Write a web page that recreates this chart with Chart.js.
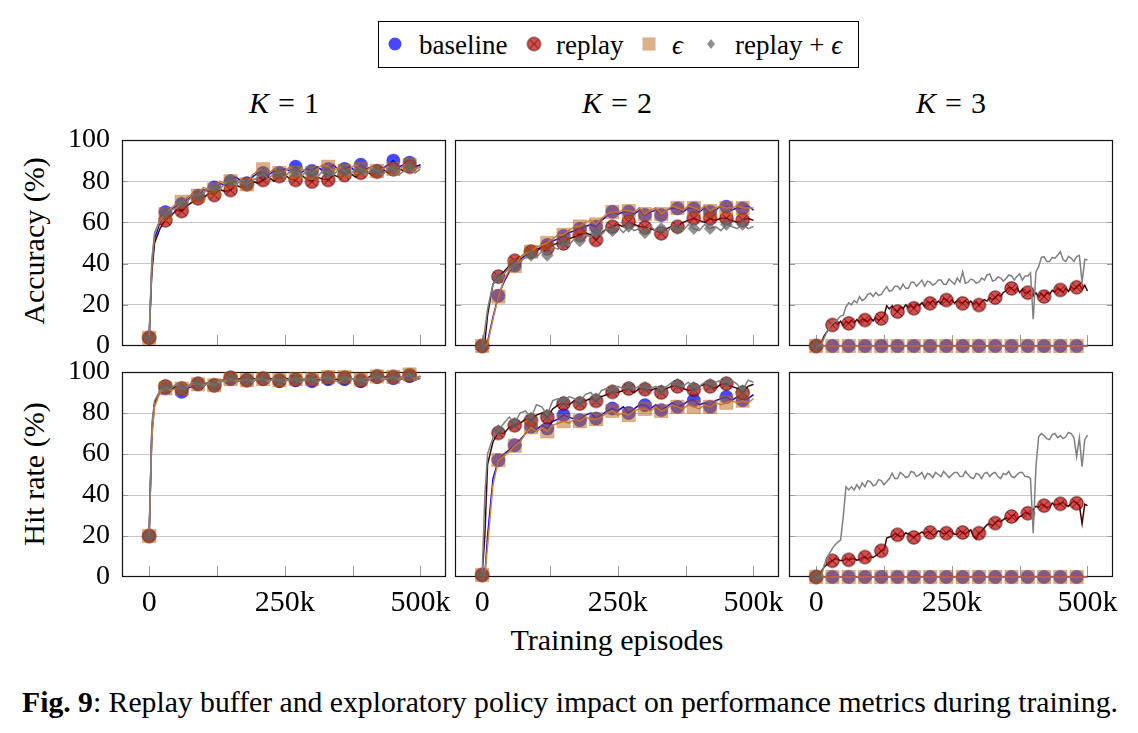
<!DOCTYPE html>
<html><head><meta charset="utf-8">
<script src="https://cdn.jsdelivr.net/npm/chart.js@4.4.1/dist/chart.umd.min.js"></script>
<style>
html,body{margin:0;padding:0;background:#fff;}
body{width:1138px;height:733px;position:relative;overflow:hidden;font-family:"Liberation Serif","Times New Roman",serif;color:#000;}
.t{position:absolute;white-space:nowrap;line-height:1;transform:translate(-50%,-50%);}
.v{position:absolute;white-space:nowrap;line-height:1;transform:translate(-50%,-50%) rotate(-90deg);}
canvas.p{position:absolute;}
#legend{position:absolute;left:378px;top:21px;width:481px;height:47px;box-sizing:border-box;border:1.3px solid #000;}
#legend canvas{position:absolute;}
#legend span{position:absolute;top:50%;transform:translateY(-50%);font-size:27px;line-height:1;white-space:nowrap;}
</style></head>
<body>
<div id="legend"></div>
<div class="t" style="left:284px;top:103px;font-size:30px"><i>K</i><span style="margin:0 0.3em">=</span>1</div>
<div class="t" style="left:617px;top:103px;font-size:30px"><i>K</i><span style="margin:0 0.3em">=</span>2</div>
<div class="t" style="left:951px;top:103px;font-size:30px"><i>K</i><span style="margin:0 0.3em">=</span>3</div>
<div class="v" style="left:34px;top:241px;font-size:30px">Accuracy (%)</div>
<div class="v" style="left:34px;top:474px;font-size:30px">Hit rate (%)</div>
<div class="t" style="left:617px;top:640px;font-size:30px">Training episodes</div>
<div style="position:absolute;left:22px;top:688px;font-size:29.7px;line-height:1;white-space:nowrap"><b>Fig. 9</b>: Replay buffer and exploratory policy impact on performance metrics during training.</div>
<script>
// ---------------- data ----------------
const episodes = [0, 5000, 10000,
  20000, 30000, 40000, 50000, 60000, 70000, 80000, 90000, 100000,
  110000, 120000, 130000, 140000, 150000, 160000, 170000, 180000, 190000, 200000,
  210000, 220000, 230000, 240000, 250000, 260000, 270000, 280000, 290000, 300000,
  310000, 320000, 330000, 340000, 350000, 360000, 370000, 380000, 390000, 400000,
  410000, 420000, 430000, 440000, 450000, 460000, 470000, 480000, 490000, 500000];

// finer sampling (thousands of episodes) used for the K = 3 replay curves
const episodesFineK = [0, 5, 10, 15, 20, 25, 30, 35, 40, 45,
  50, 55, 60, 65, 70, 75, 80, 85, 90, 95,
  100, 105, 110, 115, 120, 125, 130, 135, 140, 145,
  150, 155, 160, 165, 170, 175, 180, 185, 190, 195,
  200, 205, 210, 215, 220, 225, 230, 235, 240, 245,
  250, 255, 260, 265, 270, 275, 280, 285, 290, 295,
  300, 305, 310, 315, 320, 325, 330, 335, 340, 345,
  350, 355, 360, 365, 370, 375, 380, 385, 390, 395,
  400, 405, 410, 415, 420, 425, 430, 435, 440, 445,
  450, 455, 460, 465, 470, 475, 480, 485, 490, 495,
  500];
const episodesFine = episodesFineK.map(k => k * 1000);

const seriesNames = ['baseline', 'replay', 'ϵ', 'replay + ϵ'];
const yTickValues = [0, 20, 40, 60, 80, 100];
const xLabelValues = [0, 250000, 500000];
const xLabels = ['0', '250k', '500k'];
const xTickValues = [0, 125000, 250000, 375000, 500000];

// Accuracy (%), K = 1
const acc1Base = [4, 38, 52,
  60, 65, 66, 68, 69, 71, 73, 73, 76,
  75, 77, 79, 78, 80, 82, 80, 79, 82, 84,
  84, 83, 85, 84, 86, 85, 87, 84, 86, 85,
  87, 85, 86, 88, 85, 86, 87, 85, 88, 86,
  87, 85, 86, 88, 90, 87, 88, 89, 87, 88];
const acc1Rep = [4, 36, 50,
  57, 61, 63, 66, 65.5, 68, 70, 71.7, 72,
  74, 73.3, 76, 75, 75.7, 78, 77, 78.5, 80, 79,
  80.6, 82, 80, 82.5, 83, 81, 80.6, 83, 81, 79.8,
  82, 81, 80.6, 83, 82, 83, 84, 82, 84.1, 85,
  83, 84.6, 86, 84, 85.8, 86, 85, 87, 86, 87];
const acc1Eps = [4, 40, 54,
  61, 64, 67, 69, 70, 72, 74, 73, 77,
  76, 76, 80, 79, 80, 81, 79, 78.5, 83, 85,
  85.8, 84, 86, 84, 85, 87, 84, 86, 85, 84,
  86, 88, 87, 85, 87, 85, 86, 88, 86, 85,
  87, 85, 86, 87, 86, 85, 88, 88, 86, 87];
const acc1RepEps = [4, 42, 55,
  61, 64.7, 66, 67, 69.6, 70, 73, 73, 74,
  77, 77, 76, 79, 80.6, 78, 81, 78.5, 80, 82,
  83.8, 81, 84, 83.8, 82, 85, 84.6, 82, 85, 84,
  82, 85, 84, 83, 86, 85, 83, 86, 85.5, 83,
  86, 85, 83, 86, 85.8, 83, 85, 87, 84, 86];

// Accuracy (%), K = 2
const acc2Base = [0, 0, 2,
  14, 24.4, 31, 36, 39, 42, 44, 45.8, 47,
  48, 49, 51, 52, 53.4, 55, 56, 57, 58, 59,
  57.9, 61, 63, 65.2, 64, 65, 65.2, 64, 66, 63.6,
  65, 66, 63.6, 66, 67, 66.8, 65, 67, 66.8, 65,
  67, 65.2, 66, 68, 67.6, 66, 67, 66.8, 68, 66];
const acc2Rep = [0, 2, 15,
  30, 33.7, 36, 39, 41.4, 43, 45, 45.8, 46,
  48, 47.4, 49, 50, 49.8, 52, 53, 53.9, 55, 54,
  51.5, 55, 57, 57.9, 59, 58, 60.4, 59, 58, 57.6,
  57, 56, 54.7, 57, 58, 57.9, 60, 61, 62, 61,
  60, 62, 61, 62, 62, 61, 60, 61.2, 62, 61];
const acc2Eps = [0, 0, 1,
  13, 24, 32, 37, 38.8, 43, 45, 45.8, 48,
  49, 50, 52, 54, 54, 56, 58, 58, 60, 61,
  59, 62, 64, 65, 65, 66, 65.5, 65, 67, 64,
  66, 67, 64, 66, 68, 67, 66, 68, 67, 66,
  68, 65.5, 67, 68, 67, 67, 68, 67, 67, 67];
const acc2RepEps = [0, 8, 18,
  30, 33, 35, 38, 39, 41, 43, 44, 43,
  46, 44, 48, 47, 50, 49, 52, 51, 54, 53,
  55, 54, 57, 56, 58, 55, 58, 56, 57, 55,
  58, 56, 57, 55, 58, 57, 56, 59, 57, 56,
  59, 57, 58, 56, 59, 58, 57, 59, 57, 58];

// Accuracy (%), K = 3
const acc3Base = [0, 0, 0,
  0, 0, 0, 0, 0, 0, 0, 0, 0,
  0, 0, 0, 0, 0, 0, 0, 0, 0, 0,
  0, 0, 0, 0, 0, 0, 0, 0, 0, 0,
  0, 0, 0, 0, 0, 0, 0, 0, 0, 0,
  0, 0, 0, 0, 0, 0, 0, 0, 0, 0];
const acc3Rep = [0, 0, 2, 5, 7, 9, 10.2, 11.5, 10.5, 12,
  10, 11.8, 11, 12.5, 11.2, 12.8, 11.5, 13, 12.6, 11.8,
  13.5, 12.2, 13.8, 12.5, 13.4, 14.5, 19.5, 18, 19.5, 17.5,
  16.7, 19, 18, 20, 18.5, 19.8, 18.3, 20.5, 19.5, 21,
  19.2, 21.5, 20.7, 22, 20.2, 21.8, 20.5, 23, 22.3, 21,
  22.5, 20.8, 22, 21, 20.7, 22, 20.5, 21.8, 20, 21.5,
  19.9, 21.5, 22.5, 21.8, 23.5, 22.5, 23.5, 25, 24.2, 26,
  26.8, 28.5, 28, 26.5, 28.2, 26, 27.5, 25.5, 25.9, 27,
  24.5, 25.8, 23.8, 25.5, 24, 26, 25, 27, 26.2, 28,
  27.2, 26, 28, 26.5, 28.8, 27.5, 28.5, 30, 27.5, 29.5,
  26.7];
const acc3Eps = [0, 0, 0,
  0, 0, 0, 0, 0, 0, 0, 0, 0,
  0, 0, 0, 0, 0, 0, 0, 0, 0, 0,
  0, 0, 0, 0, 0, 0, 0, 0, 0, 0,
  0, 0, 0, 0, 0, 0, 0, 0, 0, 0,
  0, 0, 0, 0, 0, 0, 0, 0, 0, 0];
const acc3RepEps = [0, 0, 1, 4, 7, 9, 11, 12, 13, 14.5,
  15, 19, 21, 20, 22, 21, 24, 22, 23, 25,
  25.6, 24, 26, 24.5, 25, 27, 28.8, 26.5, 27, 29,
  29, 27.5, 30, 28, 28, 31, 31, 29, 30.4, 32,
  29, 31.5, 31, 29.5, 30.4, 32, 32, 30, 30, 32.5,
  31.2, 30, 33, 31, 36, 30.5, 31, 32.5, 32, 30.5,
  31, 33, 32, 34.5, 35, 31.5, 32, 33.5, 33, 31.5,
  32.8, 34.5, 34, 32, 33.7, 35, 32, 34, 34, 35.5,
  13, 36, 38.5, 43, 43.4, 41, 41, 43, 42.6, 44,
  45.8, 42, 41, 43.5, 42.6, 41, 43.4, 44, 31, 42,
  41.7];

// Hit rate (%), K = 1
const hit1Base = [20, 72, 85,
  90, 92, 91, 93, 90.3, 92, 93, 94, 93,
  95, 93.5, 95, 96, 96.5, 95, 96, 96, 95, 97,
  96.5, 96, 97, 95.5, 97, 96, 96, 97, 96, 95.5,
  97, 96, 96.5, 97, 96, 96.5, 97, 96, 95.5, 97,
  96, 97.5, 96, 97, 97, 96, 97, 98, 96, 97];
const hit1Rep = [20, 70, 84,
  91, 93, 92, 93, 92, 93, 94, 94.3, 94,
  95, 93.5, 96, 96, 97.2, 96, 97, 96, 97, 96,
  96.8, 97, 96, 96, 97, 96, 96.3, 97, 96, 96.3,
  97, 96, 97.2, 97, 96, 97.2, 97, 96, 96, 97,
  98, 97.9, 97, 98, 97.6, 97, 98, 98.4, 97, 98];
const hit1Eps = [20, 68, 83,
  90, 92, 91, 92, 91.9, 93, 94, 94, 94,
  94, 93.5, 95, 96, 96.5, 96, 96, 96, 96, 96.5,
  96.5, 96, 96, 96, 96.5, 96, 96.5, 97, 96, 96.5,
  97, 97, 97.5, 97, 97, 97.5, 97, 96, 96.3, 97,
  97, 97.8, 97, 97, 97.6, 97, 98, 98.8, 97, 98];
const hit1RepEps = [20, 75, 86,
  91, 92.7, 92, 94, 91.9, 93, 95, 94.3, 93,
  95, 93.5, 96, 95, 97, 95, 96, 96, 95, 97,
  96.8, 95, 97, 96, 95, 97, 96.3, 95, 97, 96.3,
  95, 97, 97, 96, 95, 97, 96, 97, 96, 95,
  97, 97.9, 96, 97, 97.5, 96, 97, 98.2, 96, 97];

// Hit rate (%), K = 2
const hit2Base = [1, 1, 20,
  48, 57, 60, 62, 64.3, 67, 70, 73.3, 72,
  74, 72.4, 76, 77, 79, 78, 77, 76.5, 79, 80,
  77.3, 79, 81, 82.2, 81, 83, 80, 82, 84, 83.8,
  82, 84, 81.4, 83, 85, 83, 84, 86, 86.2, 84,
  85, 83, 86, 87, 87.8, 86, 88, 86.2, 87, 89];
const hit2Rep = [1, 20, 55,
  66, 70.3, 70, 73, 74, 75, 77, 76.5, 79,
  80, 78, 82, 84, 84.6, 84, 86, 84.6, 86, 87,
  85.9, 88, 89, 90.3, 90, 91, 91.9, 90, 92, 91.6,
  91, 92, 90, 92, 93, 93, 92, 91, 91.4, 93,
  94, 93, 92, 94, 94.3, 93, 92, 90, 93, 94];
const hit2Eps = [1, 1, 15,
  45, 57, 59, 61, 64, 66, 70, 73, 71,
  73, 71, 74, 75, 76, 75, 77, 76, 78, 77,
  77, 78, 80, 81, 79, 80, 79, 81, 82, 82,
  81, 83, 81, 82, 84, 83, 82, 84, 83, 82,
  84, 83, 85, 84, 85, 86, 85, 86, 85, 87];
const hit2RepEps = [1, 40, 60,
  68, 71.5, 75, 78, 75, 80, 81, 77.5, 84,
  83, 79, 86, 87, 85.5, 88, 87, 85.5, 89, 90,
  87, 91, 92, 91, 93, 92, 92.5, 92, 93, 92.5,
  92, 93, 91, 93, 95, 94, 93, 95, 92.5, 93,
  95, 94, 95, 96, 95, 96, 94, 91, 96, 95];

// Hit rate (%), K = 3
const hit3Base = [0, 0, 0,
  0, 0, 0, 0, 0, 0, 0, 0, 0,
  0, 0, 0, 0, 0, 0, 0, 0, 0, 0,
  0, 0, 0, 0, 0, 0, 0, 0, 0, 0,
  0, 0, 0, 0, 0, 0, 0, 0, 0, 0,
  0, 0, 0, 0, 0, 0, 0, 0, 0, 0];
const hit3Rep = [0, 0, 3, 5, 6, 7.5, 7.9, 9, 8.5, 8,
  8, 9, 8.4, 8.8, 9, 8.2, 8.5, 9.5, 9.7, 8.8,
  10, 9.5, 10.5, 11.5, 12.8, 13, 19, 19.5, 20, 21,
  20.6, 19.8, 20, 21.5, 21, 20, 19.3, 20.5, 21, 22,
  21, 22.2, 21.7, 20.5, 21, 22.5, 22, 21, 21.4, 22.5,
  22, 20.8, 21, 22.5, 21.7, 21, 22, 23, 20, 18.5,
  21.4, 22, 24, 25.5, 26, 25, 26.3, 27.5, 27, 28,
  29, 28, 29.5, 30.5, 28, 29.5, 30, 31.5, 31.1, 30.5,
  33, 34.5, 34, 35.5, 34.8, 34, 34, 36, 35, 35.5,
  35.7, 36.5, 35, 34.5, 36, 37, 36, 35, 26, 35.5,
  34.8];
const hit3Eps = [0, 0, 0,
  0, 0, 0, 0, 0, 0, 0, 0, 0,
  0, 0, 0, 0, 0, 0, 0, 0, 0, 0,
  0, 0, 0, 0, 0, 0, 0, 0, 0, 0,
  0, 0, 0, 0, 0, 0, 0, 0, 0, 0,
  0, 0, 0, 0, 0, 0, 0, 0, 0, 0];
const hit3RepEps = [0, 0, 1, 6, 9, 11.7, 14, 15.7, 17, 18,
  29.5, 44, 42.5, 44, 42.5, 45, 43, 46, 44, 47,
  46.5, 44.5, 45, 47.5, 47, 45, 46.5, 48, 50.6, 48,
  48, 51, 50, 48.5, 49, 51.5, 51, 49, 49.8, 51,
  48, 50.5, 50, 48.5, 51, 50, 49, 51.5, 50, 48.5,
  49.8, 51, 51, 49, 49, 51.5, 50, 48.5, 48, 50.5,
  50, 48, 50.6, 51, 49, 50.5, 51, 49, 48, 50.5,
  50, 51.5, 49, 48.5, 49.8, 51, 51, 49, 49, 48,
  21.4, 53.8, 68.4, 70, 69, 67.5, 67, 69.5, 70, 68,
  69, 67.5, 68.4, 70.5, 70, 68, 58.7, 68, 53.8, 67,
  69.2];

// ---------------- styling ----------------
function crossedCircle(r) {
  const c = document.createElement('canvas');
  const s = Math.ceil(r * 2 + 3);
  c.width = s; c.height = s;
  const g = c.getContext('2d');
  const m = s / 2;
  g.beginPath(); g.arc(m, m, r, 0, Math.PI * 2);
  g.fillStyle = 'rgba(205,15,15,0.74)'; g.fill();
  g.lineWidth = 0.9; g.strokeStyle = 'rgba(40,0,0,0.85)'; g.stroke();
  const d = r * Math.SQRT1_2;
  g.beginPath(); g.moveTo(m - d, m - d); g.lineTo(m + d, m + d);
  g.moveTo(m + d, m - d); g.lineTo(m - d, m + d);
  g.lineWidth = 0.8; g.stroke();
  return c;
}
const replayMark = crossedCircle(6.7);

const STYLES = [
  { line: '#0000ff', pointStyle: 'circle', radius: 6.7, bg: 'rgba(0,0,255,0.72)', bd: 'rgba(0,0,200,0.5)', bw: 0.5 },
  { line: '#3d0606', pointStyle: replayMark, radius: 6.7, bg: 'rgba(0,0,0,0)', bd: 'rgba(0,0,0,0)', bw: 0 },
  { line: '#d2843c', pointStyle: 'rect', radius: 9.4, bg: 'rgba(189,105,25,0.52)', bd: 'rgba(189,105,25,0.55)', bw: 0.6 },
  { line: '#808080', pointStyle: 'rectRot', radius: 6, bg: 'rgba(100,100,100,0.72)', bd: 'rgba(100,100,100,0.72)', bw: 0.5 }
];

const COLS = [122, 455, 789];
const ROWS = [140, 372];
const PW = 324, PHS = [206, 205];
const PADL = 70, PADT = 40, PADR = 40, XH = 55;

const ALL = 480000, NONE = 0;
const PANELS = [
  { col: 0, row: 0, data: [acc1Base, acc1Rep, acc1Eps, acc1RepEps], xs: [episodes, episodes, episodes, episodes], lastMark: [ALL, ALL, ALL, ALL] },
  { col: 1, row: 0, data: [acc2Base, acc2Rep, acc2Eps, acc2RepEps], xs: [episodes, episodes, episodes, episodes], lastMark: [ALL, ALL, ALL, ALL] },
  { col: 2, row: 0, data: [acc3Base, acc3Rep, acc3Eps, acc3RepEps], xs: [episodes, episodesFine, episodes, episodesFine], lastMark: [ALL, ALL, ALL, NONE] },
  { col: 0, row: 1, data: [hit1Base, hit1Rep, hit1Eps, hit1RepEps], xs: [episodes, episodes, episodes, episodes], lastMark: [ALL, ALL, ALL, ALL] },
  { col: 1, row: 1, data: [hit2Base, hit2Rep, hit2Eps, hit2RepEps], xs: [episodes, episodes, episodes, episodes], lastMark: [ALL, ALL, ALL, ALL] },
  { col: 2, row: 1, data: [hit3Base, hit3Rep, hit3Eps, hit3RepEps], xs: [episodes, episodesFine, episodes, episodesFine], lastMark: [ALL, ALL, ALL, NONE] }
];

const framePlugin = {
  id: 'frame',
  beforeDatasetsDraw(chart) {
    const { ctx, chartArea: a, scales: { x, y } } = chart;
    ctx.save();
    ctx.lineWidth = 1;
    ctx.strokeStyle = '#9a9a9a';
    ctx.beginPath();
    for (const v of yTickValues) {
      if (v === 0 || v === 100) continue;
      const py = Math.round(y.getPixelForValue(v)) + 0.5;
      ctx.moveTo(a.left, py); ctx.lineTo(a.left + 6, py);
      ctx.moveTo(a.right - 6, py); ctx.lineTo(a.right, py);
    }
    for (const v of xTickValues) {
      const px = Math.round(x.getPixelForValue(v)) + 0.5;
      ctx.moveTo(px, a.bottom); ctx.lineTo(px, a.bottom - 11);
    }
    ctx.stroke();
    ctx.strokeStyle = '#111';
    ctx.lineWidth = 1.2;
    ctx.strokeRect(Math.round(a.left) + 0.5, Math.round(a.top) + 0.5, Math.round(a.right - a.left) - 1, Math.round(a.bottom - a.top) - 1);
    ctx.restore();
  }
};

PANELS.forEach((p) => {
  const cv = document.createElement('canvas');
  cv.className = 'p';
  const ph = PHS[p.row];
  const W = PADL + PW + PADR, H = PADT + ph + XH;
  cv.width = W; cv.height = H;
  cv.style.left = (COLS[p.col] - PADL) + 'px';
  cv.style.top = (ROWS[p.row] - PADT) + 'px';
  cv.style.width = W + 'px'; cv.style.height = H + 'px';
  document.body.appendChild(cv);

  const datasets = p.data.map((vals, si) => {
    const st = STYLES[si];
    const last = p.lastMark[si];
    const xs = p.xs[si];
    return {
      label: seriesNames[si],
      data: xs.map((e, i) => ({ x: e, y: vals[i] })),
      borderColor: st.line,
      borderWidth: 1.5,
      tension: 0,
      pointStyle: st.pointStyle,
      pointBackgroundColor: st.bg,
      pointBorderColor: st.bd,
      pointBorderWidth: st.bw,
      pointRadius: (c) => { const e = xs[c.dataIndex]; return (e % 30000 === 0 && e <= last) ? st.radius : 0; },
      pointHoverRadius: 0,
      clip: false,
      order: 4 - si
    };
  });

  new Chart(cv, {
    type: 'line',
    data: { datasets },
    plugins: [framePlugin],
    options: {
      responsive: false,
      animation: false,
      devicePixelRatio: 1,
      layout: { padding: { top: PADT, right: PADR, left: 0, bottom: 0 } },
      plugins: { legend: { display: false }, tooltip: { enabled: false } },
      events: [],
      scales: {
        x: {
          type: 'linear', min: -50000, max: 547000,
          afterFit(s) { s.height = XH; },
          afterBuildTicks(s) { s.ticks = xLabelValues.map(v => ({ value: v })); },
          grid: { display: false },
          border: { display: false },
          ticks: {
            display: p.row === 1,
            autoSkip: false, maxRotation: 0, padding: 0,
            color: '#000',
            font: { family: '"Liberation Serif", serif', size: 30 },
            callback: (v) => xLabels[xLabelValues.indexOf(v)]
          }
        },
        y: {
          min: 0, max: 100,
          afterFit(s) { s.width = PADL; },
          afterBuildTicks(s) { s.ticks = yTickValues.map(v => ({ value: v })); },
          grid: {
            drawTicks: false, lineWidth: 1,
            color: (c) => (c.tick && (c.tick.value === 0 || c.tick.value === 100)) ? 'rgba(0,0,0,0)' : '#c8c8c8'
          },
          border: { display: false },
          ticks: {
            display: p.col === 0,
            padding: 12, color: '#000',
            font: { family: '"Liberation Serif", serif', size: 28 }
          }
        }
      }
    }
  });
});

// ---------------- legend ----------------
const legend = document.getElementById('legend');
const legendItems = [
  { icon: 16, text: 40 },
  { icon: 155, text: 177 },
  { icon: 270, text: 293 },
  { icon: 332, text: 356 }
];
legendItems.forEach((it, si) => {
  const c = document.createElement('canvas');
  c.width = 20; c.height = 20;
  c.style.left = (it.icon - 10) + 'px';
  c.style.top = '12px';
  const g = c.getContext('2d');
  const st = STYLES[si];
  if (si === 0) { g.beginPath(); g.arc(10, 10, 6.5, 0, Math.PI * 2); g.fillStyle = st.bg; g.fill(); }
  else if (si === 1) { g.drawImage(replayMark, 10 - replayMark.width / 2, 10 - replayMark.height / 2); }
  else if (si === 2) { g.fillStyle = st.bg; g.fillRect(3.5, 3.5, 13, 13); }
  else { g.beginPath(); g.moveTo(10, 5); g.lineTo(14, 10); g.lineTo(10, 15); g.lineTo(6, 10); g.closePath(); g.fillStyle = st.bg; g.fill(); }
  legend.appendChild(c);
  const s = document.createElement('span');
  s.style.left = it.text + 'px';
  s.innerHTML = seriesNames[si].replace(/ϵ/g, '<i>ϵ</i>');
  legend.appendChild(s);
});
</script>
</body></html>
